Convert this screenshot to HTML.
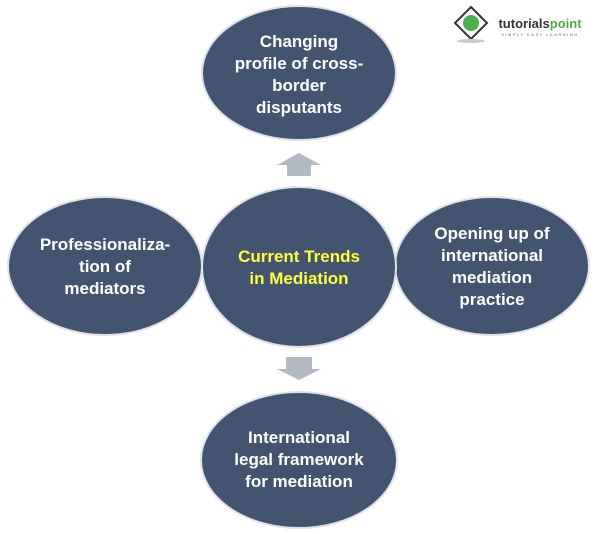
<!DOCTYPE html>
<html><head><meta charset="utf-8"><style>
html,body{margin:0;padding:0;background:#fff;width:600px;height:534px;overflow:hidden}
text{font-family:"Liberation Sans",sans-serif;font-weight:bold;font-size:17px;fill:#fff;text-anchor:middle}
</style></head><body>
<svg width="600" height="534" viewBox="0 0 600 534" xmlns="http://www.w3.org/2000/svg">
<g fill="#435470" stroke="#dfe3e8" stroke-width="2">
<ellipse cx="299" cy="73" rx="97" ry="67"/>
<ellipse cx="105" cy="266" rx="97" ry="69"/>
<ellipse cx="492" cy="266" rx="97" ry="69"/>
<ellipse cx="299" cy="460" rx="98" ry="68"/>
<ellipse cx="299" cy="267" rx="97" ry="80"/>
</g>
<g fill="#b4bac2">
<polygon points="277,165 299,153 321,165 311,165 311,176 287,176 287,165"/>
<polygon points="286,357 312,357 312,369 321,369 299,380 277,369 286,369"/>
</g>
<text x="299" y="47">Changing</text>
<text x="299" y="69">profile of cross-</text>
<text x="299" y="91">border</text>
<text x="299" y="113">disputants</text>
<text x="105" y="250">Professionaliza-</text>
<text x="105" y="272">tion of</text>
<text x="105" y="294">mediators</text>
<text x="299" y="262" style="fill:#ffff3c">Current Trends</text>
<text x="299" y="284" style="fill:#ffff3c">in Mediation</text>
<text x="492" y="239">Opening up of</text>
<text x="492" y="261">international</text>
<text x="492" y="283">mediation</text>
<text x="492" y="305">practice</text>
<text x="299" y="443">International</text>
<text x="299" y="465">legal framework</text>
<text x="299" y="487">for mediation</text>
<g>
<polygon points="471,7 487,23 471,39 455,23" fill="#fff" stroke="#333" stroke-width="2"/>
<circle cx="471" cy="23" r="8" fill="#4cae4c"/>
<ellipse cx="471" cy="41" rx="14" ry="2" fill="#ccc"/>
<text x="540" y="28" style="font-size:13px;fill:#333">tutorials<tspan style="fill:#4cae4c">point</tspan></text>
<text x="540" y="36" style="font-size:4px;font-weight:normal;fill:#666;letter-spacing:1.5px">SIMPLY EASY LEARNING</text>
</g>
</svg>
</body></html>
